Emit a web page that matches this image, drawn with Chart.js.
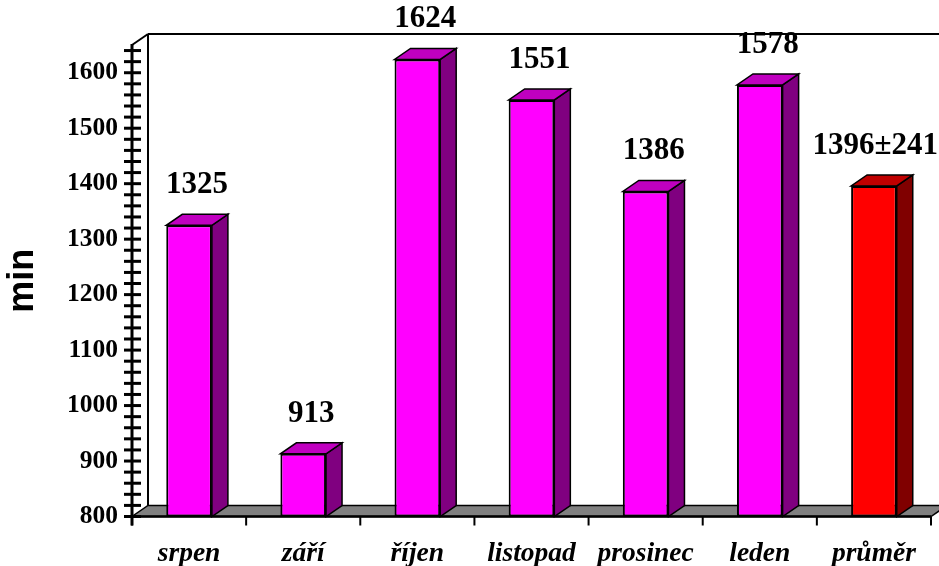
<!DOCTYPE html>
<html>
<head>
<meta charset="utf-8">
<script src="https://cdn.jsdelivr.net/npm/chart.js@4"></script>
<style>
  html, body { margin: 0; padding: 0; background: #ffffff; }
  canvas { display: block; }
</style>
</head>
<body>
<canvas id="chart" width="939" height="566"></canvas>
<script>
// Monthly totals (minutes) and the average with its spread
const months = ['srpen', 'září', 'říjen', 'listopad', 'prosinec', 'leden', 'průměr'];
const minutes = [1325, 913, 1624, 1551, 1386, 1578, 1396];
const averageSpread = 241;

// Value axis
const yMin = 800;
const yMax = 1650;
const yLabelStep = 100;
const yMinorStep = 20;

// Face colours: front, top, side
const frontColors = ['#FF00FF', '#FF00FF', '#FF00FF', '#FF00FF', '#FF00FF', '#FF00FF', '#FF0000'];
const topColors   = ['#C000C0', '#C000C0', '#C000C0', '#C000C0', '#C000C0', '#C000C0', '#C00000'];
const sideColors  = ['#800080', '#800080', '#800080', '#800080', '#800080', '#800080', '#800000'];

// Depth of the pseudo-3D projection
const DEPTH_X = 16;
const DEPTH_Y = 11;

const valueText = (i) => String(minutes[i]) + (i === minutes.length - 1 ? '±' + averageSpread : '');

function poly(ctx, pts, fill, lw) {
  ctx.beginPath();
  ctx.moveTo(pts[0][0], pts[0][1]);
  for (let k = 1; k < pts.length; k++) ctx.lineTo(pts[k][0], pts[k][1]);
  ctx.closePath();
  ctx.fillStyle = fill;
  ctx.fill();
  ctx.lineWidth = lw;
  ctx.strokeStyle = '#000000';
  ctx.lineJoin = 'miter';
  ctx.stroke();
}

function line(ctx, x1, y1, x2, y2, lw) {
  ctx.beginPath();
  ctx.moveTo(x1, y1);
  ctx.lineTo(x2, y2);
  ctx.lineWidth = lw;
  ctx.strokeStyle = '#000000';
  ctx.stroke();
}

const box3d = {
  id: 'box3d',
  beforeDatasetsDraw(chart) {
    const ctx = chart.ctx;
    const { left, right, top, bottom } = chart.chartArea;
    ctx.save();
    // floor
    poly(ctx, [[left, bottom], [right, bottom], [right + DEPTH_X, bottom - DEPTH_Y], [left + DEPTH_X, bottom - DEPTH_Y]], '#808080', 1.5);
    // back wall edges
    line(ctx, left + DEPTH_X, bottom - DEPTH_Y, left + DEPTH_X, top - DEPTH_Y, 2);
    line(ctx, left + DEPTH_X, top - DEPTH_Y, chart.width + 2, top - DEPTH_Y, 2);
    line(ctx, left, top, left + DEPTH_X, top - DEPTH_Y, 2);
    // side and top faces of every bar
    const meta = chart.getDatasetMeta(0);
    meta.data.forEach((bar, i) => {
      const L = bar.x - bar.width / 2, R = bar.x + bar.width / 2, T = bar.y, B = bar.base;
      poly(ctx, [[R, B], [R, T], [R + DEPTH_X, T - DEPTH_Y], [R + DEPTH_X, B - DEPTH_Y]], sideColors[i], 1.5);
      poly(ctx, [[L, T], [R, T], [R + DEPTH_X, T - DEPTH_Y], [L + DEPTH_X, T - DEPTH_Y]], topColors[i], 1.5);
    });
    ctx.restore();
  },
  afterDatasetsDraw(chart) {
    const ctx = chart.ctx;
    const { left, right, top, bottom } = chart.chartArea;
    const ys = chart.scales.y;
    const xs = chart.scales.x;
    ctx.save();
    // floor front edge (category axis)
    line(ctx, left, bottom, right, bottom, 2.5);
    // category separators below the floor
    const half = (xs.getPixelForValue(1) - xs.getPixelForValue(0)) / 2;
    for (let i = 0; i <= months.length; i++) {
      const px = i < months.length ? xs.getPixelForValue(i) - half : xs.getPixelForValue(months.length - 1) + half;
      line(ctx, px, bottom, px, bottom + 9, 2);
    }
    // value axis with crossing tick marks
    line(ctx, left, top - 1, left, bottom + 9, 3);
    ys.ticks.forEach(t => {
      const py = ys.getPixelForValue(t.value);
      line(ctx, left - 8, py, left + 9, py, 3);
    });
    // value labels above the bars
    ctx.font = 'bold 31px "Liberation Serif", "Times New Roman", serif';
    ctx.fillStyle = '#000000';
    ctx.textAlign = 'center';
    ctx.textBaseline = 'middle';
    const meta = chart.getDatasetMeta(0);
    meta.data.forEach((bar, i) => {
      const txt = valueText(i);
      const w = ctx.measureText(txt).width;
      let x = bar.x + 8;
      if (x + w / 2 > chart.width - 1) x = chart.width - 1 - w / 2;
      ctx.fillText(txt, x, bar.y - 40);
    });
    ctx.restore();
  }
};

const minorTicks = [];
for (let v = yMin; v < yMax; v += yMinorStep) minorTicks.push(v);

new Chart(document.getElementById('chart'), {
  type: 'bar',
  data: {
    labels: months,
    datasets: [{
      data: minutes,
      base: yMin,
      backgroundColor: frontColors,
      borderColor: '#000000',
      borderWidth: 2,
      borderSkipped: false,
      barPercentage: 0.4,
      categoryPercentage: 1.0
    }]
  },
  options: {
    responsive: false,
    animation: false,
    layout: { padding: { top: 45, right: 8, bottom: 0, left: 0 } },
    plugins: { legend: { display: false }, tooltip: { enabled: false } },
    scales: {
      x: {
        grid: { display: false, drawTicks: false },
        border: { display: false },
        ticks: {
          padding: 21,
          color: '#000000',
          font: { family: '"Liberation Serif", "Times New Roman", serif', size: 27.5, weight: 'bold', style: 'italic' }
        },
        afterFit: (s) => { s.height = 49.5; }
      },
      y: {
        min: yMin,
        max: yMax,
        grid: { display: false, drawTicks: false },
        border: { display: false },
        afterBuildTicks: (s) => { s.ticks = minorTicks.map(v => ({ value: v })); },
        ticks: {
          autoSkip: false,
          padding: 14,
          color: '#000000',
          font: { family: '"Liberation Serif", "Times New Roman", serif', size: 25.5, weight: 'bold' },
          callback: (v) => (v % yLabelStep === 0 ? String(v) : '')
        },
        title: {
          display: true,
          text: 'min',
          color: '#000000',
          padding: { top: 1, bottom: 0 },
          font: { family: '"Liberation Sans", Arial, sans-serif', size: 36, weight: 'bold' }
        },
        afterFit: (s) => { s.width = 132; }
      }
    }
  },
  plugins: [box3d]
});
</script>
</body>
</html>
